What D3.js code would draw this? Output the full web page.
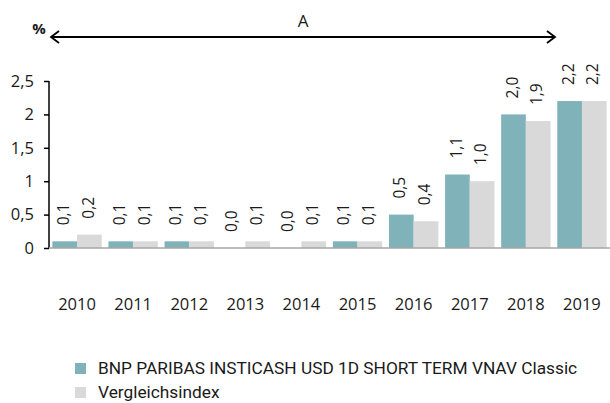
<!DOCTYPE html>
<html>
<head>
<meta charset="utf-8">
<script src="https://cdn.jsdelivr.net/npm/d3@7"></script>
<style>
  body { margin: 0; background: #fff; }
  text { font-family: "Open Sans", sans-serif; fill: #1a1a1a; }
</style>
</head>
<body>
<div id="chart"></div>
<script>
// data
const years = ["2010", "2011", "2012", "2013", "2014", "2015", "2016", "2017", "2018", "2019"];
const fund = [0.1, 0.1, 0.1, 0.0, 0.0, 0.1, 0.5, 1.1, 2.0, 2.2];
const bench = [0.2, 0.1, 0.1, 0.1, 0.1, 0.1, 0.4, 1.0, 1.9, 2.2];
const yTicks = [0, 0.5, 1, 1.5, 2, 2.5];
const seriesNames = ["BNP PARIBAS INSTICASH USD 1D SHORT TERM VNAV Classic", "Vergleichsindex"];
const colors = ["#80b3b9", "#d9d9d9"];

const width = 610, height = 403;
const margin = {top: 81, right: 0, bottom: 155, left: 49};
const innerW = width - margin.left - margin.right;
const innerH = height - margin.top - margin.bottom;

const fmt = v => v.toFixed(1).replace(".", ",");

let svg = d3.select("#chart").append("svg")
    .attr("width", width)
    .attr("height", height);

let g = svg.append("g")
    .attr("transform", `translate(${margin.left}, ${margin.top})`);

let x = d3.scaleBand().domain(years).range([0, innerW]).paddingInner(0.12).paddingOuter(0.06);
let xs = d3.scaleBand().domain([0, 1]).range([0, x.bandwidth()]);
let y = d3.scaleLinear().domain([0, 2.5]).range([innerH, 0]);

// y axis
let yAxis = g.append("g")
    .call(d3.axisLeft(y).tickValues(yTicks).tickSize(5).tickPadding(10).tickFormat(d => String(d).replace(".", ",")));
yAxis.select(".domain").attr("stroke", "#000").attr("stroke-width", 1.5).attr("d", `M0,0V${innerH}`);
yAxis.selectAll(".tick line").attr("stroke", "#000").attr("stroke-width", 1.5);
yAxis.selectAll(".tick text").style("font-size", "16.5px").attr("fill", "#1a1a1a");

// bars
const rows = years.map((yr, i) => ({year: yr, vals: [fund[i], bench[i]]}));
let groups = g.selectAll(".yr").data(rows).enter().append("g")
    .attr("transform", d => `translate(${x(d.year)}, 0)`);

groups.selectAll("rect").data(d => d.vals).enter().append("rect")
    .attr("x", (d, i) => xs(i))
    .attr("y", d => y(d))
    .attr("width", xs.bandwidth())
    .attr("height", d => innerH - y(d))
    .attr("fill", (d, i) => colors[i]);

// value labels, rotated
groups.selectAll("text").data(d => d.vals).enter().append("text")
    .attr("transform", (d, i) => `translate(${xs(i) + xs.bandwidth() / 2}, ${y(d) - 16}) rotate(-90)`)
    .attr("dominant-baseline", "middle")
    .style("text-anchor", "start")
    .style("font-size", "15.5px")
    .text(fmt);

// x axis baseline
g.append("line")
    .attr("x1", 0).attr("x2", innerW)
    .attr("y1", innerH).attr("y2", innerH)
    .attr("stroke", "#a6a6a6").attr("stroke-width", 1.5);

// year labels
g.selectAll(".yl").data(years).enter().append("text")
    .attr("x", d => x(d) + x.bandwidth() / 2)
    .attr("y", innerH + 62)
    .style("text-anchor", "middle")
    .style("font-size", "16.5px")
    .text(d => d);

// period arrow
const ay = 37, ax1 = 51, ax2 = 555;
svg.append("line").attr("x1", ax1).attr("x2", ax2).attr("y1", ay).attr("y2", ay)
    .attr("stroke", "#000").attr("stroke-width", 1.8);
svg.append("path").attr("d", `M${ax1 + 8},${ay - 6}L${ax1},${ay}L${ax1 + 8},${ay + 6}`)
    .attr("fill", "none").attr("stroke", "#000").attr("stroke-width", 1.8);
svg.append("path").attr("d", `M${ax2 - 8},${ay - 6}L${ax2},${ay}L${ax2 - 8},${ay + 6}`)
    .attr("fill", "none").attr("stroke", "#000").attr("stroke-width", 1.8);
svg.append("text").attr("x", 303).attr("y", 27).style("text-anchor", "middle")
    .style("font-size", "17px").text("A");
svg.append("text").attr("x", 39).attr("y", 34).style("text-anchor", "middle")
    .style("font-size", "15px").style("font-weight", "bold").text("%");

// legend
let legend = svg.append("g").attr("transform", "translate(75, 363)");
seriesNames.forEach((name, i) => {
    legend.append("rect").attr("x", 0).attr("y", i * 24).attr("width", 11).attr("height", 11)
        .attr("fill", colors[i]);
    legend.append("text").attr("x", 23).attr("y", i * 24 + 6)
        .attr("dominant-baseline", "middle")
        .style("font-family", "'Liberation Sans Narrow', 'Roboto', sans-serif")
        .style("font-size", "17.3px")
        .text(name);
});
</script>
</body>
</html>
